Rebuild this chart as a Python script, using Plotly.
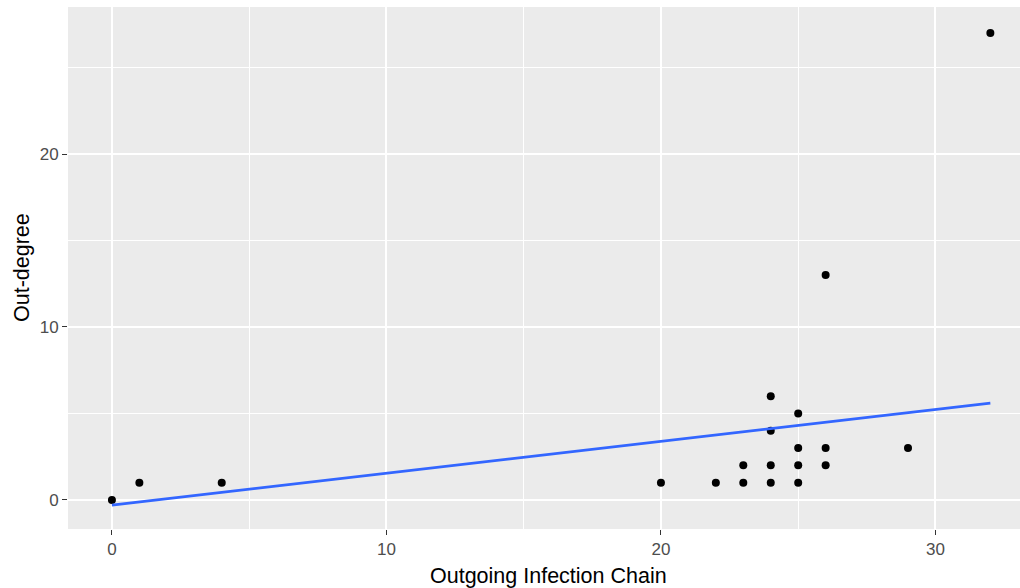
import plotly.graph_objects as go

# Data
chain = [0, 1, 4, 20, 22, 23, 23, 24, 24, 24, 24, 25, 25, 25, 25, 26, 26, 26, 29, 32]
outdeg = [0, 1, 1, 1, 1, 1, 2, 1, 2, 4, 6, 1, 2, 3, 5, 2, 3, 13, 3, 27]

# Linear fit line (endpoints)
fit_x = [0, 32]
fit_y = [-0.3, 5.6]

x_ticks = [0, 10, 20, 30]
y_ticks = [0, 10, 20]

FONT = "Liberation Sans, Arial, sans-serif"

fig = go.Figure()
fig.add_trace(go.Scatter(
    x=chain, y=outdeg, mode="markers",
    marker=dict(color="black", size=8, line=dict(width=0)),
    showlegend=False, hoverinfo="x+y",
))
fig.add_trace(go.Scatter(
    x=fit_x, y=fit_y, mode="lines",
    line=dict(color="#3366FF", width=2.7),
    showlegend=False,
))

axis_common = dict(
    showgrid=True, gridcolor="white", gridwidth=1.6,
    zeroline=False, showline=False,
    ticks="outside", ticklen=5, tickwidth=1.1, tickcolor="#333333",
    tickfont=dict(family=FONT, size=17, color="#4D4D4D"),
    minor=dict(showgrid=True, gridcolor="white", gridwidth=0.8, ticks=""),
)

fig.update_xaxes(
    range=[-1.6, 33.08], tickvals=x_ticks, ticktext=[str(v) for v in x_ticks],
    minor_tickvals=[5, 15, 25],
    **axis_common,
)
fig.update_yaxes(
    range=[-1.68, 28.5], tickvals=y_ticks, ticktext=[str(v) for v in y_ticks],
    minor_tickvals=[5, 15, 25],
    **axis_common,
)

fig.update_layout(
    width=1020, height=588,
    margin=dict(l=68, r=0, t=7, b=59, pad=0),
    plot_bgcolor="#EBEBEB", paper_bgcolor="white",
    font=dict(family=FONT),
    annotations=[
        dict(text="Outgoing Infection Chain", xref="paper", yref="paper",
             x=(548 - 68) / 952, y=0, yshift=-47, xanchor="center", yanchor="middle",
             showarrow=False, font=dict(family=FONT, size=21.5, color="black")),
        dict(text="Out-degree", xref="paper", yref="paper",
             x=0, xshift=-46, y=(529 - 268) / 522, xanchor="center", yanchor="middle",
             textangle=-90, showarrow=False,
             font=dict(family=FONT, size=21.5, color="black")),
    ],
)

fig.write_html("out.html")
